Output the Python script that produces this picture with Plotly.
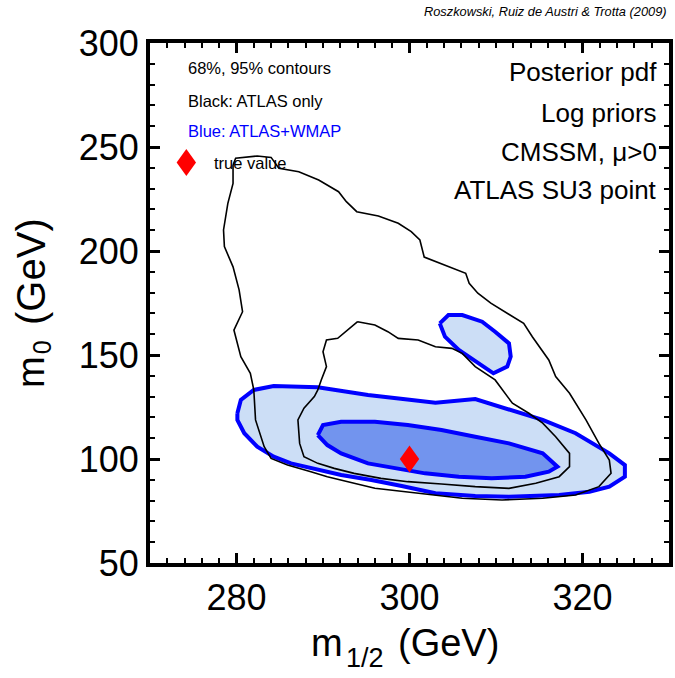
import plotly.graph_objects as go

# ---- data ----
x_range = [270, 330]
y_range = [50, 300]
x_ticks = [280, 300, 320]
y_ticks = [50, 100, 150, 200, 250, 300]

# ATLAS only, 95% contour (black outer)
black95_m12 = [279.6, 279.9, 282.4, 284.0, 284.9, 287.2, 289.5, 291.8, 292.7, 293.9, 296.4, 298.7,
               300.2, 301.2, 301.7, 304.0, 306.5, 306.9, 307.9, 309.4, 311.3, 313.2, 314.2, 315.0,
               316.1, 316.9, 318.5, 320.4, 321.9, 323.1, 323.3, 321.9, 319.2, 315.4, 310.7, 306.1,
               302.6, 299.8, 296.0, 293.6, 290.5, 288.6, 285.9, 284.0, 283.2, 282.2, 282.0, 281.6,
               280.5, 279.7, 280.7, 280.3, 279.6, 278.6, 278.5, 279.0, 279.6, 279.6]
black95_m0 = [241.3, 244.6, 245.7, 245.0, 239.8, 238.1, 234.1, 228.5, 223.7, 218.9, 216.8, 213.3,
              209.3, 205.3, 197.1, 193.3, 189.3, 184.5, 179.7, 174.9, 170.0, 165.2, 158.8, 154.0,
              147.6, 139.6, 131.6, 118.8, 107.5, 99.5, 93.1, 86.7, 82.7, 81.1, 80.3, 81.1,
              82.7, 84.3, 85.9, 88.3, 91.5, 93.9, 97.1, 100.3, 105.9, 118.8, 133.2, 141.2,
              149.2, 162.0, 170.8, 181.3, 192.4, 202.1, 210.1, 222.9, 232.5, 241.3]

# ATLAS only, 68% contour (black inner)
black68_m12 = [294.0, 296.0, 297.5, 298.7, 301.0, 303.0, 304.9, 306.1, 307.6, 309.9, 311.9, 313.8,
               315.4, 316.9, 318.5, 318.5, 317.3, 314.6, 311.5, 307.6, 303.7, 299.8, 296.7, 293.6,
               291.3, 289.4, 287.8, 287.3, 287.1, 287.8, 289.0, 289.4, 289.8, 290.4, 290.0, 290.4,
               291.7, 292.9, 294.0]
black68_m0 = [166.0, 164.4, 161.2, 158.0, 157.2, 154.0, 153.2, 150.8, 144.4, 138.0, 126.8, 122.0,
              117.2, 110.7, 102.7, 96.3, 91.5, 88.3, 85.9, 86.7, 88.0, 89.1, 90.7, 93.1,
              95.5, 97.9, 101.1, 107.5, 118.8, 124.4, 130.0, 133.2, 138.0, 144.4, 151.6, 157.2,
              158.0, 162.0, 166.0]

# ATLAS+WMAP, 95% contour (main region)
blue95_m12 = [280.1, 280.5, 282.0, 284.3, 289.4, 295.2, 299.5, 303.0, 307.6, 309.5, 312.3, 315.4,
              319.2, 323.1, 324.9, 324.9, 323.1, 320.8, 317.3, 311.5, 307.6, 303.0, 299.1, 295.6,
              292.1, 289.0, 286.3, 284.3, 282.4, 280.9, 280.1, 280.1]
blue95_m0 = [122.0, 128.4, 133.2, 135.1, 134.5, 130.8, 128.7, 127.1, 128.8, 126.4, 122.7, 118.8,
             112.4, 102.7, 97.1, 91.5, 86.7, 84.3, 82.7, 81.9, 82.2, 83.5, 87.0, 89.9,
             92.3, 95.5, 97.9, 101.1, 105.9, 112.4, 118.8, 122.0]

# ATLAS+WMAP, 95% contour (island)
blue95b_m12 = [303.5, 304.5, 306.1, 308.4, 309.9, 311.5, 311.7, 311.3, 309.7, 307.6, 305.7, 304.1, 303.5]
blue95b_m0 = [165.2, 169.2, 169.2, 166.0, 161.2, 155.6, 149.2, 144.4, 141.2, 146.8, 152.4, 158.8, 165.2]

# ATLAS+WMAP, 68% contour
blue68_m12 = [289.4, 290.0, 292.1, 296.0, 299.8, 303.7, 307.6, 311.5, 315.4, 317.1, 316.1, 313.4,
              309.5, 305.7, 301.8, 298.3, 295.2, 292.1, 290.5, 289.4]
blue68_m0 = [111.5, 116.3, 117.9, 117.9, 116.3, 113.9, 110.7, 107.5, 102.7, 96.3, 93.9, 91.5,
             90.7, 91.5, 93.1, 95.5, 97.9, 102.7, 106.7, 111.5]

true_m12 = 300
true_m0 = 100

# ---- styling ----
FONT = "Liberation Sans, Arial, sans-serif"
BLUE = "#0000ff"
LIGHT = "rgb(204,222,246)"
DARK = "rgb(114,148,238)"

fig = go.Figure()

fig.add_trace(go.Scatter(x=blue95_m12, y=blue95_m0, mode="lines", fill="toself",
                         fillcolor=LIGHT, line=dict(color=BLUE, width=4), hoverinfo="skip"))
fig.add_trace(go.Scatter(x=blue95b_m12, y=blue95b_m0, mode="lines", fill="toself",
                         fillcolor=LIGHT, line=dict(color=BLUE, width=4), hoverinfo="skip"))
fig.add_trace(go.Scatter(x=blue68_m12, y=blue68_m0, mode="lines", fill="toself",
                         fillcolor=DARK, line=dict(color=BLUE, width=4), hoverinfo="skip"))
fig.add_trace(go.Scatter(x=black95_m12, y=black95_m0, mode="lines",
                         line=dict(color="black", width=1.6), hoverinfo="skip"))
fig.add_trace(go.Scatter(x=black68_m12, y=black68_m0, mode="lines",
                         line=dict(color="black", width=1.6), hoverinfo="skip"))

diamond = "M 0 13.5 L 9.7 0 L 0 -13.5 L -9.7 0 Z"
# true value marker anchored at the data point
fig.add_shape(type="path", xref="x", yref="y", xsizemode="pixel", ysizemode="pixel",
              xanchor=true_m12, yanchor=true_m0, path=diamond,
              fillcolor="red", line=dict(width=0), layer="above")
# legend diamond
fig.add_shape(type="path", xref="paper", yref="paper", xsizemode="pixel", ysizemode="pixel",
              xanchor=0.070, yanchor=0.770, path=diamond,
              fillcolor="red", line=dict(width=0), layer="above")

axis_common = dict(
    showline=True, linewidth=4, linecolor="black", mirror="ticks",
    ticks="inside", ticklen=10, tickwidth=2.5, tickcolor="black",
    showgrid=False, zeroline=False,
    tickfont=dict(family=FONT, size=36, color="black"),
)

fig.update_xaxes(range=x_range, tickvals=x_ticks,
                 minor=dict(ticks="inside", ticklen=5, tickwidth=2, dtick=2, tick0=270,
                            tickcolor="black", showgrid=False),
                 **axis_common)
fig.update_yaxes(range=y_range, tickvals=y_ticks,
                 minor=dict(ticks="inside", ticklen=5, tickwidth=2, dtick=10, tick0=50,
                            tickcolor="black", showgrid=False),
                 **axis_common)

ann = []
def add_text(text, x, y, size, xanchor="left", color="black", **kw):
    ann.append(dict(text=text, x=x, y=y, xref="paper", yref="paper", xanchor=xanchor,
                    yanchor="middle", showarrow=False,
                    font=dict(family=FONT, size=size, color=color), **kw))

add_text("68%, 95% contours", 0.070, 0.952, 16.5)
add_text("Black: ATLAS only", 0.070, 0.889, 16.5)
add_text("Blue: ATLAS+WMAP", 0.070, 0.831, 16.5, color=BLUE)
add_text("true value", 0.120, 0.770, 16.5)
add_text("Posterior pdf", 0.981, 0.945, 26, xanchor="right")
add_text("Log priors", 0.981, 0.866, 26, xanchor="right")
add_text("CMSSM, μ>0", 0.981, 0.791, 26, xanchor="right")
add_text("ATLAS SU3 point", 0.981, 0.717, 26, xanchor="right")
add_text("<i>Roszkowski, Ruiz de Austri &amp; Trotta (2009)</i>", 1.0, 1.061, 12.8, xanchor="right")

# x-axis title: m_{1/2} (GeV)
add_text("m", 0.3403, -0.1533, 38, xanchor="center")
add_text("1/2", 0.4150, -0.1830, 27, xanchor="center")
add_text("(GeV)", 0.5746, -0.1533, 38, xanchor="center")
# y-axis title: m_0 (GeV)
add_text("m", -0.2294, 0.3673, 38, xanchor="center", textangle=-90)
add_text("0", -0.2084, 0.4144, 25, xanchor="center", textangle=-90)
add_text("(GeV)", -0.2294, 0.5615, 40, xanchor="center", textangle=-90)

fig.update_layout(
    width=675, height=678,
    margin=dict(l=150, r=2, t=43, b=115),
    paper_bgcolor="white", plot_bgcolor="white",
    showlegend=False,
    annotations=ann,
)

fig.write_html("out.html", config={"displayModeBar": False},
               post_script="document.body.style.margin='0';document.body.style.overflow='hidden';")
